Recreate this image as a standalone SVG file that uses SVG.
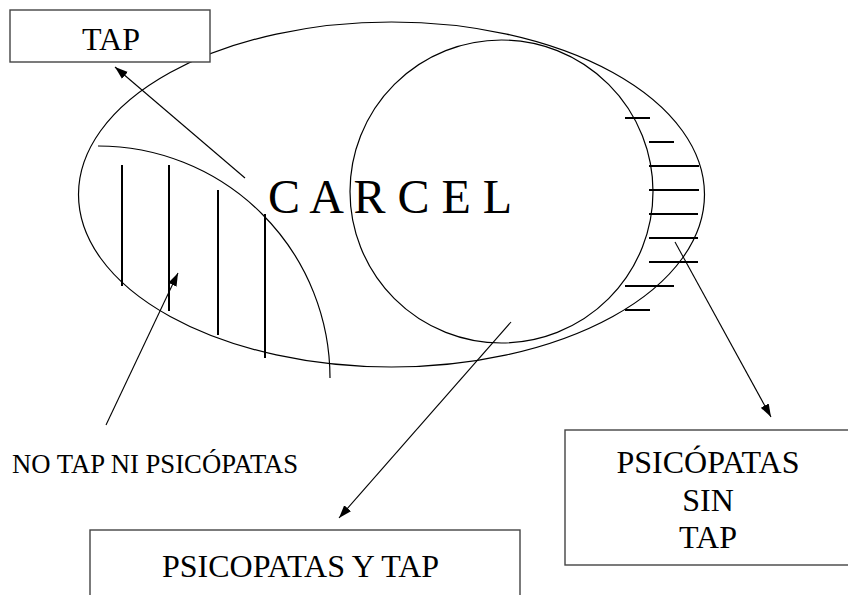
<svg xmlns="http://www.w3.org/2000/svg" width="848" height="595" viewBox="0 0 848 595">
  <style>
    .shape { fill: none; stroke: #000; stroke-width: 1.2; }
    .box { fill: #fff; stroke: #444; stroke-width: 1.4; }
    .hatch { stroke: #000; stroke-width: 2; }
    .conn { stroke: #000; stroke-width: 1.1; fill: none; marker-end: url(#arrow); }
    text { font-family: 'Liberation Serif', 'Times New Roman', Times, 'DejaVu Serif', serif; fill: #000; }
  </style>
  <defs>
    <marker id="arrow" markerUnits="userSpaceOnUse" markerWidth="14" markerHeight="10" refX="13" refY="5" orient="auto">
      <path d="M0,0.5 L13,5 L0,9.5 z" fill="#000"/>
    </marker>
  </defs>
  <rect width="848" height="595" fill="#fff"/>

  <g id="carcel">
    <ellipse class="shape" cx="391.5" cy="194.5" rx="313" ry="172.5"/>
    <text font-family="Liberation Serif, Times New Roman, serif" x="268" y="213" font-size="48">C A R C E L</text>
  </g>

  <g id="psicopatas-circle">
    <ellipse class="shape" cx="501.5" cy="191.5" rx="151.5" ry="151.5"/>
  </g>

  <g id="no-tap-region">
    <path class="shape" d="M98,146 A232,232 0 0 1 330,378"/>
    <line class="hatch" x1="122" y1="165" x2="122" y2="286"/>
    <line class="hatch" x1="169" y1="165" x2="169" y2="311"/>
    <line class="hatch" x1="218" y1="190" x2="218" y2="335"/>
    <line class="hatch" x1="265" y1="214" x2="265" y2="358"/>
  </g>

  <g id="psicopatas-sin-tap-region">
    <line class="hatch" x1="625" y1="118" x2="650" y2="118"/>
    <line class="hatch" x1="649" y1="142" x2="674" y2="142"/>
    <line class="hatch" x1="649" y1="166" x2="699" y2="166"/>
    <line class="hatch" x1="649" y1="190" x2="699" y2="190"/>
    <line class="hatch" x1="649" y1="214" x2="698" y2="214"/>
    <line class="hatch" x1="649" y1="238" x2="698" y2="238"/>
    <line class="hatch" x1="649" y1="262" x2="698" y2="262"/>
    <line class="hatch" x1="625" y1="286" x2="674" y2="286"/>
    <line class="hatch" x1="625" y1="310" x2="650" y2="310"/>
  </g>

  <g id="tap-box">
    <rect class="box" x="10" y="10" width="200" height="52"/>
    <text font-family="Liberation Serif, Times New Roman, serif" x="111" y="50" font-size="32" text-anchor="middle">TAP</text>
  </g>

  <g id="no-tap-label">
    <text font-family="Liberation Serif, Times New Roman, serif" x="12" y="473" font-size="26.7">NO TAP NI PSICÓPATAS</text>
  </g>

  <g id="psicopatas-y-tap-box">
    <rect class="box" x="90" y="530" width="430" height="80"/>
    <text font-family="Liberation Serif, Times New Roman, serif" x="162" y="577" font-size="32">PSICOPATAS Y TAP</text>
  </g>

  <g id="psicopatas-sin-tap-box">
    <rect class="box" x="565" y="430" width="300" height="135"/>
    <text font-family="Liberation Serif, Times New Roman, serif" x="708" y="472.5" font-size="32" text-anchor="middle">PSICÓPATAS</text>
    <text font-family="Liberation Serif, Times New Roman, serif" x="708" y="511" font-size="32" text-anchor="middle">SIN</text>
    <text font-family="Liberation Serif, Times New Roman, serif" x="708" y="548" font-size="32" text-anchor="middle">TAP</text>
  </g>

  <g id="connectors">
    <line class="conn" x1="245" y1="178" x2="115" y2="67"/>
    <line class="conn" x1="106" y1="425" x2="178" y2="273"/>
    <line class="conn" x1="511" y1="322" x2="339" y2="518"/>
    <line class="conn" x1="675" y1="242" x2="771" y2="417"/>
  </g>
</svg>
